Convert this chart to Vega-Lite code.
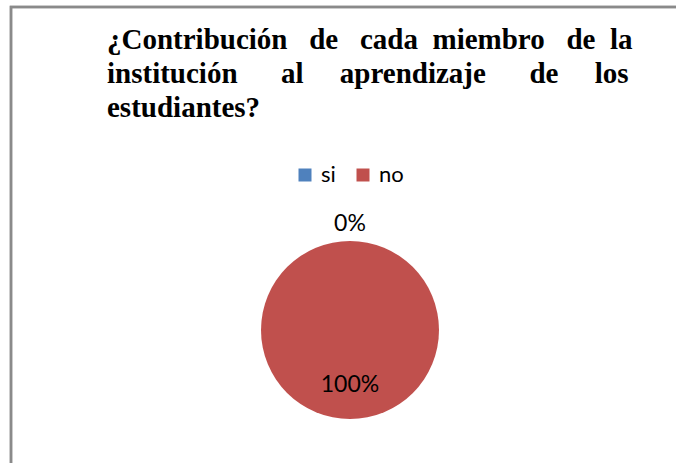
{
  "$schema": "https://vega.github.io/schema/vega-lite/v6.json",
  "autosize": {"type": "none"},
  "padding": {"left": 11, "top": 7, "right": 0, "bottom": 0},
  "width": 678,
  "height": 646,
  "background": "white",
  "config": {
    "view": {"stroke": null},
    "font": "Lato",
    "legend": {"symbolType": "square"}
  },
  "title": {
    "text": [
      "¿Contribución\u00a0\u00a0 de\u00a0\u00a0 cada\u00a0 miembro\u00a0\u00a0 de\u00a0 la",
      "institución\u00a0\u00a0\u00a0\u00a0\u00a0 al\u00a0\u00a0\u00a0\u00a0 aprendizaje\u00a0\u00a0\u00a0\u00a0\u00a0 de\u00a0\u00a0\u00a0\u00a0 los",
      "estudiantes?"
    ],
    "font": "Times New Roman",
    "fontSize": 29,
    "fontWeight": "bold",
    "color": "#000000",
    "anchor": "start",
    "frame": "group",
    "baseline": "top",
    "lineHeight": 34,
    "dx": 96,
    "dy": 121
  },
  "data": {
    "values": [
      {"respuesta": "si", "porcentaje": 0, "etiqueta": "0%"},
      {"respuesta": "no", "porcentaje": 100, "etiqueta": "100%"}
    ]
  },
  "layer": [
    {
      "mark": {"type": "rect", "fill": null, "fillOpacity": 0, "stroke": "#8a8a8a", "strokeWidth": 2.5},
      "encoding": {}
    },
    {
      "mark": {"type": "arc", "outerRadius": 89},
      "encoding": {
        "theta": {"field": "porcentaje", "type": "quantitative", "stack": true},
        "color": {
          "field": "respuesta",
          "type": "nominal",
          "scale": {"domain": ["si", "no"], "range": ["#4F81BD", "#C0504D"]},
          "legend": {
            "title": null,
            "orient": "none",
            "direction": "horizontal",
            "legendX": 283,
            "legendY": 157,
            "symbolType": "square",
            "symbolSize": 169,
            "symbolStrokeWidth": 0,
            "symbolOpacity": 1,
            "labelFont": "Lato",
            "labelFontSize": 22,
            "labelColor": "#000000",
            "columnPadding": 16,
            "labelOffset": 5,
            "padding": 0
          }
        }
      }
    },
    {
      "transform": [{"filter": "datum.respuesta === 'si'"}],
      "mark": {"type": "text", "radius": 106, "fontSize": 23, "font": "Lato", "color": "#000000"},
      "encoding": {
        "theta": {"field": "porcentaje", "type": "quantitative", "stack": true},
        "text": {"field": "etiqueta", "type": "nominal"}
      }
    },
    {
      "transform": [{"filter": "datum.respuesta === 'no'"}],
      "mark": {"type": "text", "radius": 55, "fontSize": 23, "font": "Lato", "color": "#000000"},
      "encoding": {
        "theta": {"field": "porcentaje", "type": "quantitative", "stack": true},
        "text": {"field": "etiqueta", "type": "nominal"}
      }
    }
  ]
}
